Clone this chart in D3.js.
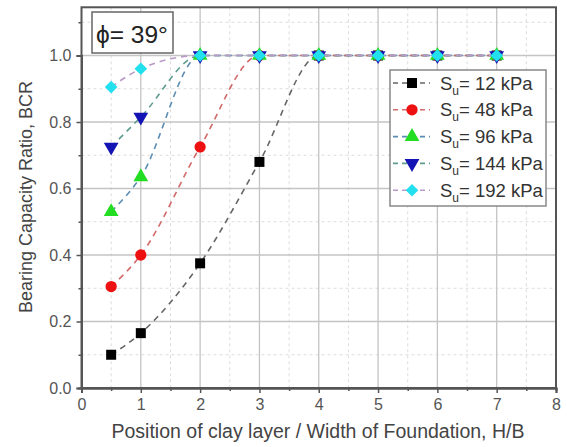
<!DOCTYPE html>
<html>
<head>
<meta charset="utf-8">
<script src="https://cdn.jsdelivr.net/npm/d3@7"></script>
<style>
  body { margin: 0; background: #fff; }
  text { font-family: "Liberation Sans", Arial, sans-serif; }
</style>
</head>
<body>
<div id="chart"></div>
<script>
(function () {
  var width = 567,
    height = 447;

  // data
  var hb = [0.5, 1, 2, 3, 4, 5, 6, 7];
  var su12 = [0.10, 0.165, 0.375, 0.68, 1.0, 1.0, 1.0, 1.0];
  var su48 = [0.305, 0.40, 0.725, 1.0, 1.0, 1.0, 1.0, 1.0];
  var su96 = [0.53, 0.635, 1.0, 1.0, 1.0, 1.0, 1.0, 1.0];
  var su144 = [0.725, 0.815, 1.0, 1.0, 1.0, 1.0, 1.0, 1.0];
  var su192 = [0.905, 0.96, 1.0, 1.0, 1.0, 1.0, 1.0, 1.0];
  var seriesLabels = ["12 kPa", "48 kPa", "96 kPa", "144 kPa", "192 kPa"];
  var xTicks = [0, 1, 2, 3, 4, 5, 6, 7, 8];
  var yTicks = [0, 0.2, 0.4, 0.6, 0.8, 1.0];

  var series = [
    { label: seriesLabels[0], values: su12, line: "#666666", fill: "#000000", shape: d3.symbolSquare, size: 100, rot: 0 },
    { label: seriesLabels[1], values: su48, line: "#d26a6a", fill: "#ee1111", shape: d3.symbolCircle, size: 100, rot: 0 },
    { label: seriesLabels[2], values: su96, line: "#5b8db4", fill: "#22dd22", shape: d3.symbolTriangle, size: 95, rot: 0 },
    { label: seriesLabels[3], values: su144, line: "#5e9c90", fill: "#1414b4", shape: d3.symbolTriangle, size: 95, rot: 180 },
    { label: seriesLabels[4], values: su192, line: "#b899c8", fill: "#22e0ee", shape: d3.symbolSquare, size: 80, rot: 45 }
  ];

  var left = 81.5, right = 556, bottom = 388, yTop1 = 55.5;

  var x = d3.scaleLinear().domain([0, 8]).range([left, right]);
  var y = d3.scaleLinear().domain([0, 1]).range([bottom, yTop1]);
  var top = y(1.145);

  var svg = d3.select("#chart")
    .append("svg")
    .attr("width", width)
    .attr("height", height);

  // grid
  var grid = svg.append("g");
  d3.range(0.5, 8, 1).forEach(function (v) {
    grid.append("line")
      .attr("x1", x(v)).attr("x2", x(v)).attr("y1", top).attr("y2", bottom)
      .attr("stroke", "#dcdcdc").attr("stroke-width", 1).attr("stroke-dasharray", "3,3");
  });
  d3.range(0.1, 1.15, 0.2).forEach(function (v) {
    grid.append("line")
      .attr("x1", left).attr("x2", right).attr("y1", y(v)).attr("y2", y(v))
      .attr("stroke", "#dcdcdc").attr("stroke-width", 1).attr("stroke-dasharray", "3,3");
  });
  xTicks.slice(1, 8).forEach(function (v) {
    grid.append("line")
      .attr("x1", x(v)).attr("x2", x(v)).attr("y1", top).attr("y2", bottom)
      .attr("stroke", "#c4c4c4").attr("stroke-width", 1.3);
  });
  yTicks.slice(1).forEach(function (v) {
    grid.append("line")
      .attr("x1", left).attr("x2", right).attr("y1", y(v)).attr("y2", y(v))
      .attr("stroke", "#c4c4c4").attr("stroke-width", 1.3);
  });

  // frame
  svg.append("rect")
    .attr("x", left).attr("y", top)
    .attr("width", right - left).attr("height", bottom - top)
    .attr("fill", "none").attr("stroke", "#555").attr("stroke-width", 2);

  // axes
  svg.append("g")
    .attr("transform", "translate(0," + bottom + ")")
    .call(d3.axisBottom(x).tickValues(xTicks).tickFormat(d3.format("d")).tickSize(5).tickPadding(6));
  svg.append("g")
    .attr("transform", "translate(0," + bottom + ")")
    .call(d3.axisBottom(x).tickValues(d3.range(0.5, 8, 1)).tickFormat("").tickSize(3));
  svg.append("g")
    .attr("transform", "translate(" + left + ",0)")
    .call(d3.axisLeft(y).tickValues(yTicks).tickFormat(d3.format(".1f")).tickSize(5).tickPadding(5));
  svg.append("g")
    .attr("transform", "translate(" + left + ",0)")
    .call(d3.axisLeft(y).tickValues([0.1, 0.3, 0.5, 0.7, 0.9, 1.1]).tickFormat("").tickSize(3));

  svg.selectAll(".domain").attr("stroke", "#555").attr("stroke-width", 2);
  svg.selectAll(".tick line").attr("stroke", "#555").attr("stroke-width", 1.5);
  svg.selectAll(".tick text")
    .attr("fill", "#555")
    .style("font-size", "16px")
    .style("font-family", "Liberation Sans, Arial, sans-serif");

  // axis titles
  svg.append("text")
    .attr("x", 318).attr("y", 438)
    .attr("text-anchor", "middle")
    .attr("fill", "#444")
    .style("font-size", "19.5px")
    .text("Position of clay layer / Width of Foundation, H/B");

  svg.append("text")
    .attr("transform", "translate(32,197) rotate(-90)")
    .attr("text-anchor", "middle")
    .attr("fill", "#444")
    .style("font-size", "18px")
    .text("Bearing Capacity Ratio, BCR");

  // lines
  var line = d3.line()
    .x(function (d, i) { return x(hb[i]); })
    .y(function (d) { return y(d); })
    .curve(d3.curveMonotoneX);

  var plot = svg.append("g");
  series.forEach(function (s) {
    plot.append("path")
      .attr("d", line(s.values))
      .attr("fill", "none")
      .attr("stroke", s.line)
      .attr("stroke-width", 1.6)
      .attr("stroke-dasharray", "6,5");
  });
  series.forEach(function (s) {
    plot.selectAll(null)
      .data(s.values)
      .enter().append("path")
      .attr("d", d3.symbol().type(s.shape).size(s.size))
      .attr("transform", function (d, i) {
        return "translate(" + x(hb[i]) + "," + y(d) + ") rotate(" + s.rot + ")";
      })
      .attr("fill", s.fill);
  });

  // phi box
  svg.append("rect")
    .attr("x", 92).attr("y", 12).attr("width", 81).attr("height", 41)
    .attr("fill", "#fff").attr("stroke", "#666").attr("stroke-width", 1.5);
  svg.append("text")
    .attr("x", 96).attr("y", 43)
    .attr("fill", "#222")
    .style("font-size", "24.5px")
    .text("\u03D5= 39\u00B0");

  // legend
  var legend = svg.append("g");
  legend.append("rect")
    .attr("x", 390).attr("y", 70).attr("width", 156).attr("height", 136)
    .attr("fill", "#fff").attr("stroke", "#888").attr("stroke-width", 1.5);

  series.forEach(function (s, i) {
    var ly = 83 + i * 26.8;
    legend.append("line")
      .attr("x1", 393).attr("x2", 430).attr("y1", ly).attr("y2", ly)
      .attr("stroke", s.line).attr("stroke-width", 1.6).attr("stroke-dasharray", "5,4");
    legend.append("path")
      .attr("d", d3.symbol().type(s.shape).size(s.size))
      .attr("transform", "translate(412," + ly + ") rotate(" + s.rot + ")")
      .attr("fill", s.fill);
    var t = legend.append("text")
      .attr("x", 440).attr("y", ly + 6.5)
      .attr("fill", "#333")
      .style("font-size", "18.5px");
    t.append("tspan").text("S");
    t.append("tspan").attr("dy", 5).style("font-size", "12px").text("u");
    t.append("tspan").attr("dy", -5).text("= " + s.label);
  });
})();
</script>
</body>
</html>
